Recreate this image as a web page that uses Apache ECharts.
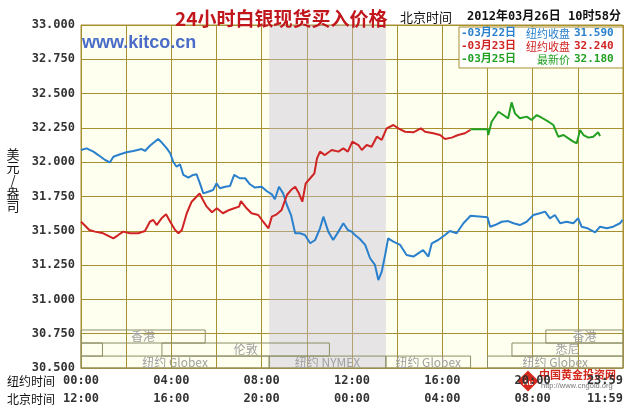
<!DOCTYPE html>
<html>
<head>
<meta charset="utf-8">
<script src="https://cdn.jsdelivr.net/npm/echarts@6/dist/echarts.min.js"></script>
<style>html,body{margin:0;padding:0;background:#fff}#c{width:638px;height:412px}</style>
</head>
<body>
<div id="c"></div>
<script>
// ---- data (minutes from 00:00 New York time) ----
const t0322 = [0,15,33,46,64,77,86,104,121,139,161,170,183,205,214,228,237,245,254,263,272,285,298,307,316,325,338,351,360,369,383,396,407,422,436,449,462,480,493,507,515,526,537,547,558,569,582,595,609,622,635,644,657,670,684,697,709,719,728,741,755,768,781,790,799,808,816,830,848,865,883,896,909,923,932,949,967,980,998,1016,1035,1080,1087,1100,1118,1135,1149,1166,1184,1202,1219,1233,1246,1259,1273,1290,1308,1321,1330,1346,1366,1379,1397,1414,1432,1439];
const v0322 = [32.089,32.101,32.077,32.052,32.016,31.999,32.040,32.058,32.072,32.082,32.096,32.082,32.120,32.169,32.145,32.101,32.065,32.003,31.967,31.985,31.907,31.887,31.907,31.912,31.846,31.773,31.785,31.797,31.846,31.810,31.821,31.827,31.907,31.883,31.883,31.839,31.815,31.821,31.790,31.766,31.730,31.821,31.773,31.688,31.615,31.482,31.482,31.469,31.409,31.433,31.518,31.603,31.494,31.433,31.494,31.555,31.506,31.494,31.469,31.440,31.397,31.300,31.251,31.141,31.202,31.324,31.445,31.421,31.397,31.324,31.312,31.336,31.360,31.312,31.409,31.433,31.469,31.499,31.482,31.555,31.610,31.598,31.530,31.542,31.566,31.571,31.555,31.542,31.566,31.615,31.628,31.640,31.591,31.615,31.555,31.566,31.555,31.591,31.530,31.518,31.488,31.530,31.518,31.530,31.555,31.579];
const t0323 = [0,9,22,37,59,86,99,112,130,152,170,183,192,201,214,226,237,250,259,268,281,294,303,315,324,334,348,361,377,394,407,420,425,440,453,471,484,498,507,520,533,547,558,569,579,588,597,609,620,627,635,648,666,684,697,709,721,737,746,759,772,786,799,812,830,843,861,883,903,914,936,954,967,985,1002,1020,1035];
const v0323 = [31.566,31.542,31.506,31.494,31.482,31.445,31.469,31.494,31.482,31.482,31.499,31.566,31.579,31.542,31.591,31.620,31.566,31.506,31.482,31.506,31.628,31.712,31.737,31.773,31.724,31.676,31.635,31.664,31.628,31.652,31.664,31.676,31.717,31.664,31.628,31.615,31.566,31.518,31.603,31.620,31.652,31.761,31.797,31.821,31.773,31.712,31.846,31.883,31.919,32.028,32.077,32.052,32.089,32.077,32.101,32.077,32.150,32.125,32.089,32.125,32.113,32.186,32.162,32.247,32.271,32.247,32.222,32.218,32.247,32.222,32.211,32.198,32.169,32.179,32.198,32.211,32.235];
const t0325 = [1035,1080,1082,1091,1109,1122,1135,1144,1153,1166,1184,1197,1211,1224,1242,1255,1268,1282,1295,1308,1317,1326,1335,1348,1361,1374,1379];
const v0325 = [32.240,32.240,32.198,32.295,32.368,32.344,32.320,32.436,32.356,32.320,32.332,32.308,32.344,32.324,32.295,32.271,32.186,32.198,32.174,32.150,32.138,32.235,32.198,32.179,32.186,32.218,32.190];

const legendDates  = ['-03月22日', '-03月23日', '-03月25日'];
const legendLabels = ['纽约收盘', '纽约收盘', '最新价'];
const legendValues = ['31.590', '32.240', '32.180'];

// trading sessions shown at the bottom (minutes NY time, row 0 = top)
const sessNames = ['香港', '香港', '', '伦敦', '悉尼', '纽约 Globex', '纽约 NYMEX', '纽约 Globex', '纽约 Globex'];
const sessStart = [0, 1235, 0, 215, 1145, 0, 500, 810, 1080];
const sessEnd   = [330, 1440, 57, 660, 1440, 500, 810, 1035, 1440];
const sessRow   = [0, 0, 1, 1, 1, 2, 2, 2, 2];
const rowEdges  = [30.777, 30.682, 30.587, 30.5];
const nymexStart = 500, nymexEnd = 810;

const yTicks = { min: 30.5, max: 33, step: 0.25 };

// ---- chart ----
const gold = '#a89030';
const blue = '#2a80cc', red = '#d02424', green = '#22a022';
const mono = 'DejaVu Sans Mono, Noto Sans CJK SC';
const pair = (ts, vs) => ts.map((t, i) => [t, vs[i]]);
const pad = n => (n < 10 ? '0' : '') + n;

const sessData = sessNames.map((n, i) => [
  { name: n, coord: [sessStart[i], rowEdges[sessRow[i]]] },
  { coord: [sessEnd[i], rowEdges[sessRow[i] + 1]] }
]);

const legendColors = [blue, red, green];
const legendGraphics = [{
  type: 'rect', shape: { x: 459, y: 27, width: 164, height: 41 },
  style: { fill: '#fff', stroke: gold, lineWidth: 1 }, z: 10
}];
legendDates.forEach((d, i) => {
  const y = 33.5 + i * 13;
  legendGraphics.push({ type: 'text', x: 461, y: y, z: 11,
    style: { text: d, fill: legendColors[i], font: 'bold 11px ' + mono, verticalAlign: 'middle' } });
  legendGraphics.push({ type: 'text', x: 570, y: y, z: 11,
    style: { text: legendLabels[i], fill: legendColors[i], font: '11px Noto Sans CJK SC', align: 'right', verticalAlign: 'middle' } });
  legendGraphics.push({ type: 'text', x: 574, y: y, z: 11,
    style: { text: legendValues[i], fill: legendColors[i], font: 'bold 11px ' + mono, verticalAlign: 'middle' } });
});

const chart = echarts.init(document.getElementById('c'), null, { renderer: 'canvas' });
chart.setOption({
  animation: false,
  backgroundColor: '#fff',
  title: {
    text: '24小时白银现货买入价格', left: 170, top: 4,
    textStyle: { fontSize: 19, fontWeight: 'bold', color: '#c0161c', fontFamily: 'Noto Sans CJK SC' }
  },
  grid: { left: 81, right: 15, top: 25, bottom: 44, show: true, backgroundColor: '#fffff0', borderColor: gold, borderWidth: 1 },
  xAxis: {
    type: 'value', min: 0, max: 1440, interval: 120,
    axisLine: { show: true, lineStyle: { color: gold } },
    axisTick: { show: false },
    splitLine: { show: true, lineStyle: { color: gold, width: 1 } },
    axisLabel: {
      showMinLabel: true, showMaxLabel: true, alignMaxLabel: 'right',
      color: '#333', fontFamily: 'DejaVu Sans Mono', fontWeight: 'bold', fontSize: 12, lineHeight: 18, margin: 4,
      formatter: v => {
        if (v === 1440) return '23:59\n11:59';
        if (v % 240 !== 0) return '';
        const h = v / 60;
        return pad(h) + ':00\n' + pad((h + 12) % 24) + ':00';
      }
    }
  },
  yAxis: {
    type: 'value', min: yTicks.min, max: yTicks.max, interval: yTicks.step,
    axisLine: { show: true, lineStyle: { color: gold } },
    axisTick: { show: false },
    splitLine: { show: true, lineStyle: { color: gold, width: 1 } },
    axisLabel: { color: '#333', fontFamily: 'DejaVu Sans Mono', fontWeight: 'bold', fontSize: 12, margin: 6,
      formatter: v => v.toFixed(3) }
  },
  series: [
    { type: 'line', data: [], silent: true, z: 1,
      markArea: { silent: true, itemStyle: { color: 'rgba(195,190,212,0.42)' },
        data: [[{ xAxis: nymexStart }, { xAxis: nymexEnd }]] } },
    { type: 'line', data: [], silent: true, z: 1,
      markArea: { silent: true,
        itemStyle: { color: 'rgba(0,0,0,0)', borderColor: '#8e8e66', borderWidth: 1 },
        label: { position: 'inside', color: '#a0a0a0', fontSize: 12, fontFamily: 'Noto Sans CJK SC, Liberation Sans' },
        data: sessData } },
    { name: '03月22日', type: 'line', data: pair(t0322, v0322), showSymbol: false, symbol: 'none',
      lineStyle: { color: blue, width: 2 }, z: 3 },
    { name: '03月23日', type: 'line', data: pair(t0323, v0323), showSymbol: false, symbol: 'none',
      lineStyle: { color: red, width: 2 }, z: 3 },
    { name: '03月25日', type: 'line', data: pair(t0325, v0325), showSymbol: false, symbol: 'none',
      lineStyle: { color: green, width: 2 }, z: 3 }
  ],
  graphic: [
    { type: 'text', x: 82, y: 43, z: 5,
      style: { text: 'www.kitco.cn', fill: '#4a6cc8', font: 'bold 18px Liberation Sans', verticalAlign: 'middle' } },
    { type: 'text', x: 400, y: 17,
      style: { text: '北京时间', fill: '#111', font: '13px Noto Sans CJK SC', verticalAlign: 'middle' } },
    { type: 'text', x: 467, y: 17,
      style: { text: '2012年03月26日 10时58分', fill: '#111', font: 'bold 12px ' + mono, verticalAlign: 'middle' } },
    { type: 'text', x: 13, y: 180,
      style: { text: '美\n元\n/\n盎\n司', fill: '#111', font: '13px Noto Sans CJK SC', lineHeight: 13, align: 'center', verticalAlign: 'middle' } },
    { type: 'text', x: 7, y: 381,
      style: { text: '纽约时间', fill: '#111', font: '12px Noto Sans CJK SC', verticalAlign: 'middle' } },
    { type: 'text', x: 7, y: 399,
      style: { text: '北京时间', fill: '#111', font: '12px Noto Sans CJK SC', verticalAlign: 'middle' } },
    { type: 'group', z: 20, children: [
      { type: 'rect', x: 528, y: 381, rotation: Math.PI / 4, shape: { x: -7.5, y: -7.5, width: 15, height: 15 },
        style: { fill: '#d42a1e' } },
      { type: 'text', x: 528, y: 383, style: { text: 'Au', fill: '#fff', font: 'bold 8px Liberation Sans', align: 'center', verticalAlign: 'middle' } },
      { type: 'text', x: 539, y: 375, style: { text: '中国黄金投资网', fill: '#d42a1e', font: 'bold 11px Noto Sans CJK SC', verticalAlign: 'middle' } },
      { type: 'text', x: 541, y: 386, style: { text: 'http://www.cngold.org', fill: '#777', font: '7.5px Liberation Sans', verticalAlign: 'middle' } }
    ] }
  ].concat(legendGraphics)
});
</script>
</body>
</html>
